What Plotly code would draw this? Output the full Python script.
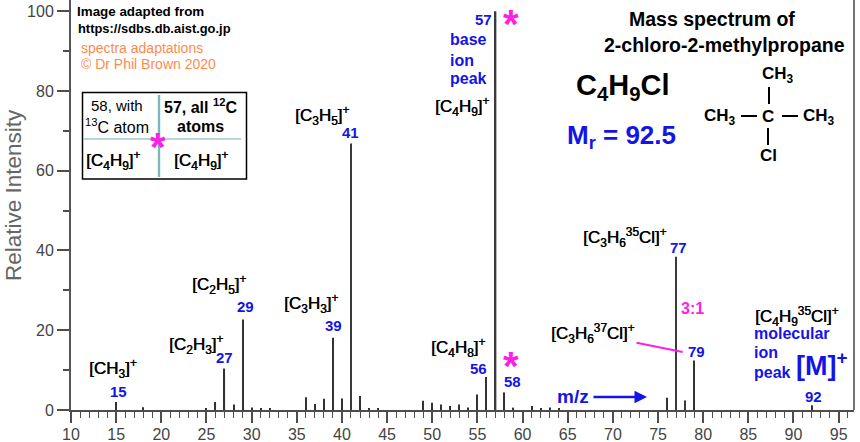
import plotly.graph_objects as go

# mass spectrum peaks
mz = [15, 18, 25, 26, 27, 28, 29, 30, 31, 32, 36, 37, 38, 39, 40, 41, 42, 43, 44,
      49, 50, 51, 52, 53, 54, 55, 56, 57, 58, 59, 61, 62, 63, 64, 76, 77, 78, 79, 92]
intensity = [2.0, 0.7, 0.5, 2.0, 10.4, 1.4, 22.7, 0.6, 0.4, 0.3, 3.2, 1.5, 2.8, 18.1, 2.9, 66.8, 3.5, 0.4, 0.3,
             2.3, 1.8, 1.4, 1.0, 1.4, 0.6, 3.9, 8.3, 100, 4.4, 0.6, 1.0, 0.4, 0.6, 0.4, 3.1, 38.4, 2.4, 12.4, 1.2]
strong_mz = [41, 57, 77, 78]

W, H = 860, 442
L, R, B = 71, 854, 410

FONT = "Liberation Sans"
BLUE = "#1414e6"
MAGENTA = "#ff1ee6"
ORANGE = "#ff8a50"
BLACK = "#000000"
GREY = "#4d4d4d"

thin = [(m, v) for m, v in zip(mz, intensity) if m not in strong_mz]
strong = [(m, v) for m, v in zip(mz, intensity) if m in strong_mz]

fig = go.Figure()
fig.add_trace(go.Bar(x=[p[0] for p in thin], y=[p[1] for p in thin], width=0.12,
                     marker=dict(color="#333333", line_width=0)))
fig.add_trace(go.Bar(x=[p[0] for p in strong], y=[p[1] for p in strong], width=0.2,
                     marker=dict(color="#3a3a3a", line_width=0)))


def px_x(x):
    return (x - L) / (R - L)


def px_y(y):
    return (B - y) / B


def note(x, y, text, size=14, color=BLACK, bold=True, anchor="center", angle=0, shadow="none"):
    if bold:
        text = "<b>" + text + "</b>"
    fig.add_annotation(x=px_x(x), y=px_y(y), xref="paper", yref="paper", text=text,
                       showarrow=False, xanchor=anchor, yanchor="middle", textangle=angle,
                       borderpad=0, borderwidth=0,
                       font=dict(family=FONT, size=size, color=color, shadow=shadow))


def ion(x, y, text):
    # the ion formulas are heavier than regular but lighter than bold
    note(x, y, text, 17, bold=False, shadow="0.5px 0 0 #000000")


def seg(x0, y0, x1, y1, color=BLACK, width=2):
    fig.add_shape(type="line", xref="paper", yref="paper",
                  x0=px_x(x0), y0=px_y(y0), x1=px_x(x1), y1=px_y(y1),
                  line=dict(color=color, width=width))


# source text
note(77, 11, "Image adapted from", 13.4, anchor="left")
note(78, 29, "https://sdbs.db.aist.go.jp", 12.9, anchor="left")
note(81, 48, "spectra adaptations", 14, ORANGE, bold=False, anchor="left")
note(81, 64, "© Dr Phil Brown 2020", 14, ORANGE, bold=False, anchor="left")

# isotope box
fig.add_shape(type="rect", xref="paper", yref="paper", x0=px_x(82.5), x1=px_x(246.5),
              y0=px_y(179), y1=px_y(92.5), line=dict(color="black", width=1.5),
              fillcolor="white", layer="below")
seg(159, 95, 159, 177, "#b5eeee", 3)
seg(159, 95, 159, 177, "#4f7f7f", 1)
seg(84, 139, 241, 139, "#6fb0b0", 1.2)
note(117, 105, "58, with", 15, bold=False)
note(117, 126, "<sup>13</sup>C atom", 16, bold=False)
note(200, 106, "57, all <sup>12</sup>C", 16)
note(200, 126, "atoms", 16)
ion(113, 160, "[C<sub>4</sub>H<sub>9</sub>]<sup>+</sup>")
ion(201, 160, "[C<sub>4</sub>H<sub>9</sub>]<sup>+</sup>")
note(158, 147, "*", 40, MAGENTA)

# peak labels
ion(113, 368, "[CH<sub>3</sub>]<sup>+</sup>")
note(118, 391, "15", 15, BLUE)
ion(196, 344, "[C<sub>2</sub>H<sub>3</sub>]<sup>+</sup>")
note(224, 357, "27", 15, BLUE)
ion(219, 284, "[C<sub>2</sub>H<sub>5</sub>]<sup>+</sup>")
note(245, 306, "29", 15, BLUE)
ion(311, 303, "[C<sub>3</sub>H<sub>3</sub>]<sup>+</sup>")
note(333, 325, "39", 15, BLUE)
ion(322, 115, "[C<sub>3</sub>H<sub>5</sub>]<sup>+</sup>")
note(350, 133, "41", 15, BLUE)
note(483, 19, "57", 15, BLUE)
note(450, 40, "base", 16, BLUE, anchor="left")
note(450, 60, "ion", 16, BLUE, anchor="left")
note(450, 79, "peak", 16, BLUE, anchor="left")
ion(462, 106, "[C<sub>4</sub>H<sub>9</sub>]<sup>+</sup>")
note(511, 24, "*", 40, MAGENTA)
ion(458, 347, "[C<sub>4</sub>H<sub>8</sub>]<sup>+</sup>")
note(479, 368, "56", 15, BLUE)
note(511, 366, "*", 40, MAGENTA)
note(512, 381, "58", 15, BLUE)
note(557, 396, "m/z", 19, BLUE, anchor="left")
fig.add_annotation(x=px_x(647), y=px_y(397), xref="paper", yref="paper", text="",
                   showarrow=True, ax=-55, ay=0, arrowcolor=BLUE, arrowwidth=2.5, arrowhead=2)

ion(625, 237, "[C<sub>3</sub>H<sub>6</sub><sup>35</sup>Cl]<sup>+</sup>")
note(678, 247, "77", 15, BLUE)
note(692, 308, "3:1", 16, MAGENTA)
ion(593, 333, "[C<sub>3</sub>H<sub>6</sub><sup>37</sup>Cl]<sup>+</sup>")
seg(636.5, 342.7, 682.7, 352, MAGENTA, 2)
note(696, 351, "79", 15, BLUE)
ion(797, 316, "[C<sub>4</sub>H<sub>9</sub><sup>35</sup>Cl]<sup>+</sup>")
note(754, 333, "molecular", 16, BLUE, anchor="left")
note(754, 352, "ion", 16, BLUE, anchor="left")
note(754, 372, "peak", 16, BLUE, anchor="left")
note(822, 364, "[M]<sup>+</sup>", 27, BLUE)
note(813, 396, "92", 15, BLUE)

# title block and structure
note(712, 19, "Mass spectrum of", 19.5)
note(724, 45, "2-chloro-2-methylpropane", 19.5)
note(622, 87, "C<sub>4</sub>H<sub>9</sub>Cl", 29)
note(621, 137, "M<sub>r</sub> = 92.5", 26, BLUE)
note(778, 75, "CH<sub>3</sub>", 17)
note(720, 117, "CH<sub>3</sub>", 17)
note(768, 116, "C", 17)
note(819, 117, "CH<sub>3</sub>", 17)
note(768, 155, "Cl", 17)
seg(769, 87, 769, 104)
seg(741, 116, 757, 116)
seg(782, 116, 798, 116)
seg(768, 128, 768, 145)

note(13, 195, "Relative Intensity", 22.5, "#666666", bold=False, angle=-90)
seg(R, 0, R, B, "#444444", 1.5)

axis_font = dict(family=FONT, size=16, color="#444444")
fig.update_layout(
    width=W, height=H, autosize=False, showlegend=False, barmode="overlay",
    paper_bgcolor="white", plot_bgcolor="white",
    margin=dict(l=L, r=W - R, t=0, b=H - B, pad=0),
    xaxis=dict(range=[10, 96.7], tick0=10, dtick=5, ticks="outside", ticklen=11, tickwidth=1.5,
               tickcolor=GREY, showline=True, linecolor=GREY, linewidth=1.5, automargin=False,
               showgrid=False, zeroline=False, tickfont=axis_font, ticklabelstandoff=-2,
               minor=dict(dtick=1, ticks="outside", ticklen=6, tickwidth=1.2, tickcolor=GREY,
                          showgrid=False)),
    yaxis=dict(range=[0, 102.8], tick0=0, dtick=20, ticks="outside", ticklen=12, tickwidth=1.5,
               tickcolor=GREY, showline=True, linecolor="#555555", linewidth=2, automargin=False,
               showgrid=False, zeroline=False, tickfont=axis_font,
               minor=dict(dtick=10, ticks="outside", ticklen=6, tickwidth=1.5, tickcolor=GREY,
                          showgrid=False)),
)

# page default body margin would push the plot 8px down and right
fig.write_html("out.html", config=dict(displayModeBar=False),
               post_script="document.body.style.margin='0';document.body.style.overflow='hidden';")
